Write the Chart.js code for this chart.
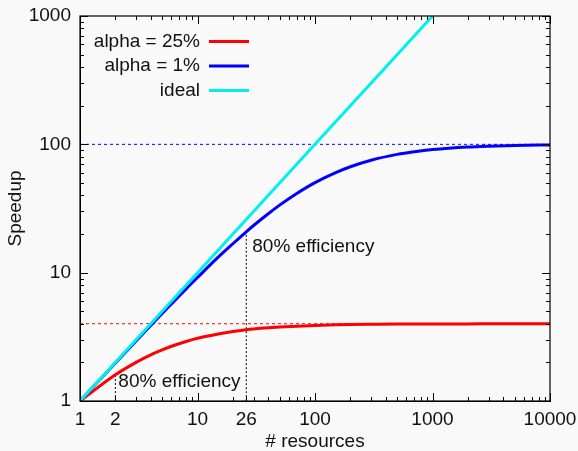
<!DOCTYPE html>
<html>
<head>
<meta charset="utf-8">
<script src="https://cdn.jsdelivr.net/npm/chart.js@4/dist/chart.umd.min.js"></script>
<style>
  html, body { margin: 0; padding: 0; background: #f9f9f9; }
  #wrap { width: 578px; height: 451px; position: relative; }
</style>
</head>
<body>
<div id="wrap"><canvas id="speedupCanvas"></canvas></div>
<script>
// values
const resources = [1, 2, 3, 4, 5, 6, 8, 10, 15, 20, 26, 30, 40, 50, 70, 100, 150, 200, 300, 500, 700, 1000, 2000, 3000, 5000, 10000];
const speedupAlpha25 = [1, 1.6, 2.0, 2.29, 2.5, 2.67, 2.91, 3.08, 3.33, 3.48, 3.59, 3.64, 3.72, 3.77, 3.83, 3.88, 3.92, 3.94, 3.96, 3.98, 3.98, 3.99, 3.99, 4.0, 4.0, 4.0];
const speedupAlpha1 = [1, 1.98, 2.94, 3.88, 4.81, 5.71, 7.48, 9.17, 13.2, 16.8, 20.8, 23.3, 28.8, 33.6, 41.4, 50.3, 60.2, 66.9, 75.2, 83.5, 87.6, 91.0, 95.3, 96.8, 98.1, 99.0];
const idealResources = [1, 10, 100, 1000];
const idealSpeedup = [1, 10, 100, 1000];

const limitAlpha25 = 4;
const limitAlpha1 = 100;
const efficiencyResources = [2, 26];
const efficiencySpeedup = [1.6, 20.8];
const efficiencyText = "80% efficiency";

const xTickLabels = [1, 2, 10, 26, 100, 1000, 10000];
const yTickLabels = [1, 10, 100, 1000];

const FONT = "'Liberation Sans', Arial, sans-serif";
Chart.defaults.font.family = FONT;
Chart.defaults.font.size = 19;
Chart.defaults.color = "#111";

function pairs(xs, ys) {
    return xs.map((x, i) => ({ x: x, y: ys[i] }));
}

function logTicks(min, max, extra) {
    const vals = [];
    for (let d = min; d < max; d *= 10) {
        for (let k = 1; k < 10; k++) vals.push(d * k);
    }
    vals.push(max);
    extra.forEach(v => { if (!vals.includes(v)) vals.push(v); });
    return vals.sort((a, b) => a - b);
}

const xAll = logTicks(1, 10000, xTickLabels);
const yAll = logTicks(1, 1000, yTickLabels);

// gnuplot-like frame with inward ticks, legend and text labels
const framePlugin = {
    id: "frame",
    afterDraw(chart) {
        const ctx = chart.ctx;
        const a = chart.chartArea;
        const xs = chart.scales.x, ys = chart.scales.y;
        ctx.save();
        ctx.strokeStyle = "#000";
        ctx.lineWidth = 1.2;
        ctx.strokeRect(a.left, a.top, a.right - a.left, a.bottom - a.top);

        ctx.beginPath();
        xAll.forEach(v => {
            const px = Math.round(xs.getPixelForValue(v)) + 0.5;
            const len = xTickLabels.includes(v) && (Math.log10(v) % 1 === 0) ? 8 : 4;
            ctx.moveTo(px, a.bottom); ctx.lineTo(px, a.bottom - len);
            ctx.moveTo(px, a.top); ctx.lineTo(px, a.top + len);
        });
        yAll.forEach(v => {
            const py = Math.round(ys.getPixelForValue(v)) + 0.5;
            const len = yTickLabels.includes(v) ? 8 : 4;
            ctx.moveTo(a.left, py); ctx.lineTo(a.left + len, py);
            ctx.moveTo(a.right, py); ctx.lineTo(a.right - len, py);
        });
        ctx.lineWidth = 1;
        ctx.stroke();

        // efficiency labels
        ctx.font = "19px " + FONT;
        ctx.fillStyle = "#111";
        ctx.textAlign = "left";
        ctx.textBaseline = "middle";
        ctx.fillText(efficiencyText, xs.getPixelForValue(efficiencyResources[0]) + 3, ys.getPixelForValue(1.4));
        ctx.fillText(efficiencyText, xs.getPixelForValue(efficiencyResources[1]) + 6, ys.getPixelForValue(15.9));

        // legend
        const items = chart.data.datasets.filter(d => d.inLegend);
        items.forEach((d, i) => {
            const y = a.top + 25.5 + i * 24.5;
            ctx.textAlign = "right";
            ctx.fillText(d.label, a.left + 120, y);
            ctx.beginPath();
            ctx.strokeStyle = d.borderColor;
            ctx.lineWidth = 3;
            ctx.moveTo(a.left + 129, y);
            ctx.lineTo(a.left + 169, y);
            ctx.stroke();
        });
        ctx.restore();
    }
};

const ctx = document.getElementById("speedupCanvas").getContext("2d");
new Chart(ctx, {
    type: "line",
    data: {
        datasets: [
            {
                label: "alpha = 25%",
                data: pairs(resources, speedupAlpha25),
                borderColor: "#ff0000",
                borderWidth: 3,
                inLegend: true,
                order: 2
            },
            {
                label: "alpha = 1%",
                data: pairs(resources, speedupAlpha1),
                borderColor: "#0000ff",
                borderWidth: 3,
                inLegend: true,
                order: 1
            },
            {
                label: "ideal",
                data: pairs(idealResources, idealSpeedup),
                borderColor: "#00f0f0",
                borderWidth: 3,
                inLegend: true,
                order: 0
            },
            {
                label: "limit 25",
                data: pairs([1, 10000], [limitAlpha25, limitAlpha25]),
                borderColor: "#ff0000",
                borderWidth: 1,
                borderDash: [3, 3],
                order: 5
            },
            {
                label: "limit 1",
                data: pairs([1, 10000], [limitAlpha1, limitAlpha1]),
                borderColor: "#0000ff",
                borderWidth: 1,
                borderDash: [3, 3],
                order: 5
            },
            {
                label: "eff 25",
                data: pairs([efficiencyResources[0], efficiencyResources[0]], [1, efficiencySpeedup[0]]),
                borderColor: "#000",
                borderWidth: 1,
                borderDash: [2, 2],
                order: 5
            },
            {
                label: "eff 1",
                data: pairs([efficiencyResources[1], efficiencyResources[1]], [1, efficiencySpeedup[1]]),
                borderColor: "#000",
                borderWidth: 1,
                borderDash: [2, 2],
                order: 5
            }
        ]
    },
    options: {
        responsive: true,
        maintainAspectRatio: false,
        animation: false,
        events: [],
        layout: { padding: { top: 16, right: 28, bottom: 0, left: 0 } },
        elements: {
            point: { radius: 0 },
            line: { cubicInterpolationMode: "monotone" }
        },
        plugins: {
            legend: { display: false },
            tooltip: { enabled: false }
        },
        scales: {
            x: {
                type: "logarithmic",
                min: 1,
                max: 10000,
                grid: { display: false, drawTicks: false },
                border: { display: true, color: "#000", width: 1 },
                afterBuildTicks: s => { s.ticks = xAll.map(v => ({ value: v })); },
                afterFit: s => { s.height = 50; s.paddingLeft = 0; s.paddingRight = 0; },
                ticks: {
                    autoSkip: false,
                    maxRotation: 0,
                    padding: 7,
                    callback: v => xTickLabels.includes(v) ? String(v) : ""
                },
                title: { display: true, text: "# resources", font: { lineHeight: 1 }, padding: { top: 0, bottom: 0 } }
            },
            y: {
                type: "logarithmic",
                min: 1,
                max: 1000,
                grid: { display: false, drawTicks: false },
                border: { display: true, color: "#000", width: 1 },
                afterBuildTicks: s => { s.ticks = yAll.map(v => ({ value: v })); },
                afterFit: s => { s.width = 80; s.paddingTop = 0; s.paddingBottom = 0; },
                ticks: {
                    autoSkip: false,
                    padding: 9,
                    callback: v => yTickLabels.includes(v) ? String(v) : ""
                },
                title: { display: true, text: "Speedup", padding: { top: 4, bottom: 0 } }
            }
        }
    },
    plugins: [framePlugin]
});
</script>
</body>
</html>
